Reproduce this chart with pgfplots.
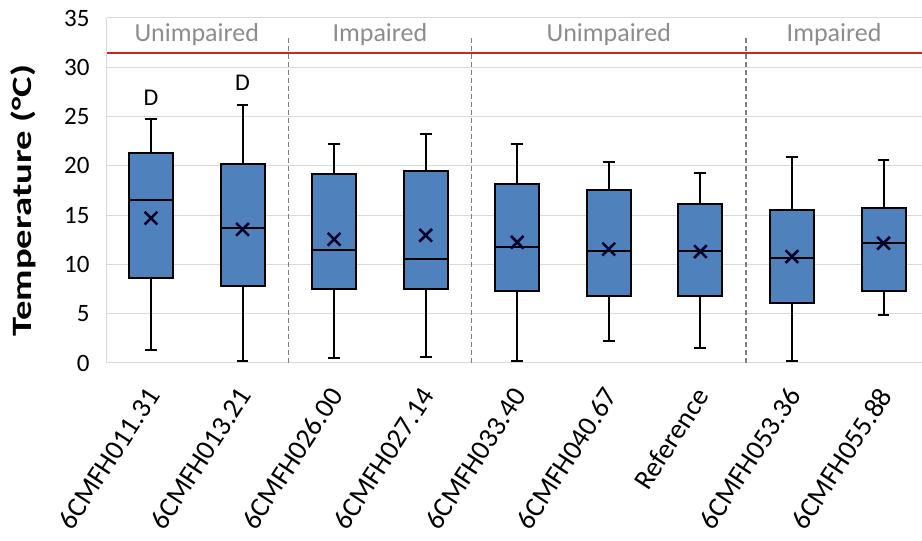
\documentclass[border=0pt]{standalone}
\usepackage{fontspec}
\setmainfont{Carlito}
\usepackage{pgfplots}
\pgfplotsset{compat=1.18}
\usepgfplotslibrary{statistics}

\definecolor{boxblue}{RGB}{79,129,189}
\definecolor{gridgray}{RGB}{217,217,217}
\definecolor{sepgray}{RGB}{128,128,128}
\definecolor{grouptext}{RGB}{140,140,140}
\definecolor{limitred}{RGB}{214,30,36}

\begin{document}
\begin{tikzpicture}
\begin{axis}[
  name=main,
  scale only axis,
  width=815pt, height=345pt,
  xmin=-0.48, xmax=8.42,
  ymin=0, ymax=35,
  ytick={0,5,...,35},
  xtick={0,...,8},
  xticklabels={6CMFH011.31,6CMFH013.21,6CMFH026.00,6CMFH027.14,6CMFH033.40,6CMFH040.67,Reference,6CMFH053.36,6CMFH055.88},
  axis lines=left,
  axis line style={-, gridgray, line width=1pt},
  major tick length=0pt,
  ymajorgrids,
  grid style={gridgray, line width=1pt},
  /pgf/number format/assume math mode=true,
  yticklabel style={font=\fontsize{25}{30}\selectfont, xshift=-14pt},
  xticklabel style={font=\fontsize{28}{34}\selectfont, anchor=east, xshift=4pt, yshift=-25pt, rotate=57},
  ylabel={\textbf{Temperature (°C)}},
  ylabel style={font=\fontsize{28}{34}\selectfont, xshift=-10pt, xscale=1.38},
  ylabel shift=21pt,
  clip=false,
  boxplot/draw direction=y,
  boxplot/box extend=0.48,
  boxplot/whisker extend=0.13,
  boxplot/every box/.style={draw=black, fill=boxblue, line width=2pt},
  boxplot/every whisker/.style={draw=black, line width=2pt},
  boxplot/every median/.style={draw=black, line width=2pt},
]

% group separators
\addplot[sepgray, line width=1.5pt, dash pattern=on 5pt off 3pt] coordinates {(1.5,0) (1.5,33.1)};
\addplot[sepgray, line width=1.5pt, dash pattern=on 5pt off 3pt] coordinates {(3.5,0) (3.5,33.1)};
\addplot[sepgray, line width=1.5pt, dash pattern=on 5pt off 3pt] coordinates {(6.5,0) (6.5,33.1)};

% threshold
\addplot[limitred, line width=2pt] coordinates {(-0.48,31.4) (8.42,31.4)};

% boxes
\pgfplotsset{mybox/.style={draw=black, fill=boxblue, line width=2pt, solid}}
\addplot[mybox, boxplot prepared={draw position=0, lower whisker=1.3, lower quartile=8.6, median=16.5, upper quartile=21.27, upper whisker=24.8}] coordinates {};
\addplot[mybox, boxplot prepared={draw position=1, lower whisker=0.2, lower quartile=7.8, median=13.7, upper quartile=20.2, upper whisker=26.2}] coordinates {};
\addplot[mybox, boxplot prepared={draw position=2, lower whisker=0.5, lower quartile=7.5, median=11.5, upper quartile=19.2, upper whisker=22.2}] coordinates {};
\addplot[mybox, boxplot prepared={draw position=3, lower whisker=0.65, lower quartile=7.5, median=10.55, upper quartile=19.5, upper whisker=23.2}] coordinates {};
\addplot[mybox, boxplot prepared={draw position=4, lower whisker=0.2, lower quartile=7.3, median=11.8, upper quartile=18.2, upper whisker=22.2}] coordinates {};
\addplot[mybox, boxplot prepared={draw position=5, lower whisker=2.2, lower quartile=6.8, median=11.4, upper quartile=17.5, upper whisker=20.4}] coordinates {};
\addplot[mybox, boxplot prepared={draw position=6, lower whisker=1.55, lower quartile=6.8, median=11.4, upper quartile=16.1, upper whisker=19.3}] coordinates {};
\addplot[mybox, boxplot prepared={draw position=7, lower whisker=0.2, lower quartile=6.1, median=10.7, upper quartile=15.5, upper whisker=20.9}] coordinates {};
\addplot[mybox, boxplot prepared={draw position=8, lower whisker=4.9, lower quartile=7.3, median=12.15, upper quartile=15.7, upper whisker=20.55}] coordinates {};

% means
\addplot[only marks, mark=x, mark size=9pt, line width=2.5pt, color=black!85!blue] coordinates {
  (0,14.7) (1,13.55) (2,12.55) (3,12.95) (4,12.25) (5,11.55) (6,11.3) (7,10.8) (8,12.15)};

% significance letters
\node[font=\fontsize{24}{28}\selectfont] at (axis cs:0,26.9) {D};
\node[font=\fontsize{24}{28}\selectfont] at (axis cs:1,28.4) {D};

% group names
\node[grouptext, font=\fontsize{26}{30}\selectfont] at (axis cs:0.5,33.3) {Unimpaired};
\node[grouptext, font=\fontsize{26}{30}\selectfont] at (axis cs:2.5,33.3) {Impaired};
\node[grouptext, font=\fontsize{26}{30}\selectfont] at (axis cs:5,33.3) {Unimpaired};
\node[grouptext, font=\fontsize{26}{30}\selectfont] at (axis cs:7.46,33.3) {Impaired};
\end{axis}
\pgfresetboundingbox
\path[use as bounding box] ([shift={(-107pt,-178pt)}]main.south west) rectangle ([shift={(815pt,18pt)}]main.south west |- main.north west);
\end{tikzpicture}
\end{document}
